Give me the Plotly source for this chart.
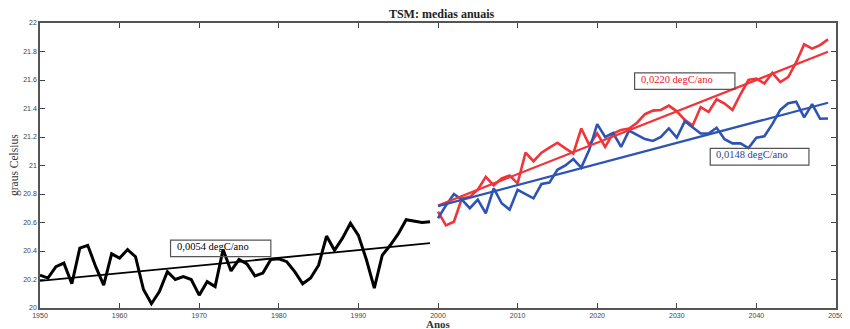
import plotly.graph_objects as go

# ---- data ----
years_hist = list(range(1950, 2000))
tsm_hist = [20.23, 20.21, 20.29, 20.315, 20.17, 20.42, 20.44, 20.29, 20.16, 20.38,
            20.35, 20.41, 20.36, 20.13, 20.03, 20.115, 20.255, 20.20, 20.22, 20.20,
            20.09, 20.185, 20.15, 20.41, 20.26, 20.34, 20.31, 20.225, 20.245, 20.34,
            20.345, 20.325, 20.255, 20.17, 20.21, 20.30, 20.505, 20.405, 20.49, 20.595,
            20.51, 20.34, 20.14, 20.37, 20.44, 20.52, 20.62, 20.61, 20.60, 20.605]

years_proj = list(range(2000, 2050))
tsm_red = [20.676, 20.58, 20.605, 20.77, 20.78, 20.83, 20.92, 20.86, 20.91, 20.93,
           20.875, 21.09, 21.03, 21.09, 21.125, 21.16, 21.12, 21.085, 21.26, 21.145,
           21.225, 21.13, 21.225, 21.25, 21.26, 21.30, 21.36, 21.385, 21.39, 21.42,
           21.38, 21.32, 21.28, 21.41, 21.375, 21.465, 21.435, 21.39, 21.50, 21.60,
           21.61, 21.575, 21.65, 21.585, 21.62, 21.725, 21.85, 21.82, 21.845, 21.885]
tsm_blue = [20.63, 20.72, 20.80, 20.76, 20.70, 20.76, 20.665, 20.84, 20.735, 20.69,
            20.83, 20.80, 20.77, 20.87, 20.88, 20.97, 21.00, 21.045, 20.985, 21.11,
            21.29, 21.20, 21.228, 21.13, 21.245, 21.215, 21.185, 21.172, 21.20, 21.26,
            21.195, 21.31, 21.265, 21.225, 21.225, 21.265, 21.185, 21.155, 21.155, 21.122,
            21.195, 21.205, 21.29, 21.39, 21.437, 21.448, 21.338, 21.43, 21.328, 21.33]

# linear trends: start value and slope (degC/ano) as labelled
trend_hist = (20.19, 0.0054)
trend_red = (20.72, 0.0220)
trend_blue = (20.715, 0.0148)

x_ticks = list(range(1950, 2051, 10))
y_ticks = [20, 20.2, 20.4, 20.6, 20.8, 21, 21.2, 21.4, 21.6, 21.8, 22]
y_tick_text = ["20", "20.2", "20.4", "20.6", "20.8", "21", "21.2", "21.4", "21.6", "21.8", "22"]

RED = "#f0343a"
BLUE = "#2d54b4"
SERIF = "Liberation Serif, Times New Roman, serif"
SANS = "Liberation Sans, Arial, sans-serif"


def trend(years, params):
    a, b = params
    y0 = years[0]
    return [a + b * (y - y0) for y in years]


fig = go.Figure()
fig.add_trace(go.Scatter(x=years_hist, y=tsm_hist, mode="lines",
                         line=dict(color="black", width=3), showlegend=False))
fig.add_trace(go.Scatter(x=years_hist, y=trend(years_hist, trend_hist), mode="lines",
                         line=dict(color="black", width=1.8), showlegend=False))
fig.add_trace(go.Scatter(x=years_proj, y=tsm_red, mode="lines",
                         line=dict(color=RED, width=2.6), showlegend=False))
fig.add_trace(go.Scatter(x=years_proj, y=tsm_blue, mode="lines",
                         line=dict(color=BLUE, width=2.6), showlegend=False))
fig.add_trace(go.Scatter(x=years_proj, y=trend(years_proj, trend_red), mode="lines",
                         line=dict(color=RED, width=2.2), showlegend=False))
fig.add_trace(go.Scatter(x=years_proj, y=trend(years_proj, trend_blue), mode="lines",
                         line=dict(color=BLUE, width=2.2), showlegend=False))

# labelled boxes
boxes = [
    dict(x0=1966.4, x1=1979.0, y0=20.36, y1=20.477, text="0,0054 degC/ano", color="black"),
    dict(x0=2024.7, x1=2037.3, y0=21.534, y1=21.65, text="0,0220 degC/ano", color="#e8202a"),
    dict(x0=2034.2, x1=2046.6, y0=21.002, y1=21.12, text="0,0148 degC/ano", color="#2a3f9a"),
]
for b in boxes:
    fig.add_shape(type="rect", x0=b["x0"], x1=b["x1"], y0=b["y0"], y1=b["y1"],
                  line=dict(color="#555555", width=1.2), fillcolor="rgba(0,0,0,0)")
    fig.add_annotation(x=b["x0"] + 0.5, y=(b["y0"] + b["y1"]) / 2 + 0.015, text=b["text"],
                       showarrow=False, xanchor="left", yanchor="middle",
                       font=dict(family=SERIF, size=10.5, color=b["color"]))

# axis titles as annotations
fig.add_annotation(xref="paper", yref="paper", x=0.5, y=-0.03, text="<b>Anos</b>",
                   showarrow=False, xanchor="center", yanchor="top", borderpad=0,
                   font=dict(family=SERIF, size=11, color="#333333"))
fig.add_annotation(xref="paper", yref="paper", x=-0.032, y=0.5, text="graus Celsius",
                   textangle=-90, showarrow=False, xanchor="center", yanchor="middle", borderpad=0,
                   font=dict(family=SERIF, size=11.5, color="#333333"))

# page body has an 8px default margin: size the figure so the plot lands where the reference has it
fig.update_layout(
    width=842, height=321,
    margin=dict(l=32, r=6, t=15, b=21),
    paper_bgcolor="white", plot_bgcolor="white",
    title=dict(text="<b>TSM: medias anuais</b>", x=0.515, xanchor="center", y=0.982, yanchor="middle",
               font=dict(family=SERIF, size=12, color="#222222")),
    xaxis=dict(range=[1950, 2050], tickvals=x_ticks, ticks="inside", ticklen=5,
               tickcolor="#444444", showline=True, linecolor="#555555", linewidth=1.5,
               mirror="ticks", showgrid=False, zeroline=False,
               tickfont=dict(family=SANS, size=7, color="#444444")),
    yaxis=dict(range=[20, 22], tickvals=y_ticks, ticktext=y_tick_text, ticks="inside", ticklen=5,
               tickcolor="#444444", showline=True, linecolor="#555555", linewidth=1.5,
               mirror="ticks", showgrid=False, zeroline=False,
               tickfont=dict(family=SANS, size=7, color="#444444")),
)

fig.write_html("out.html")
